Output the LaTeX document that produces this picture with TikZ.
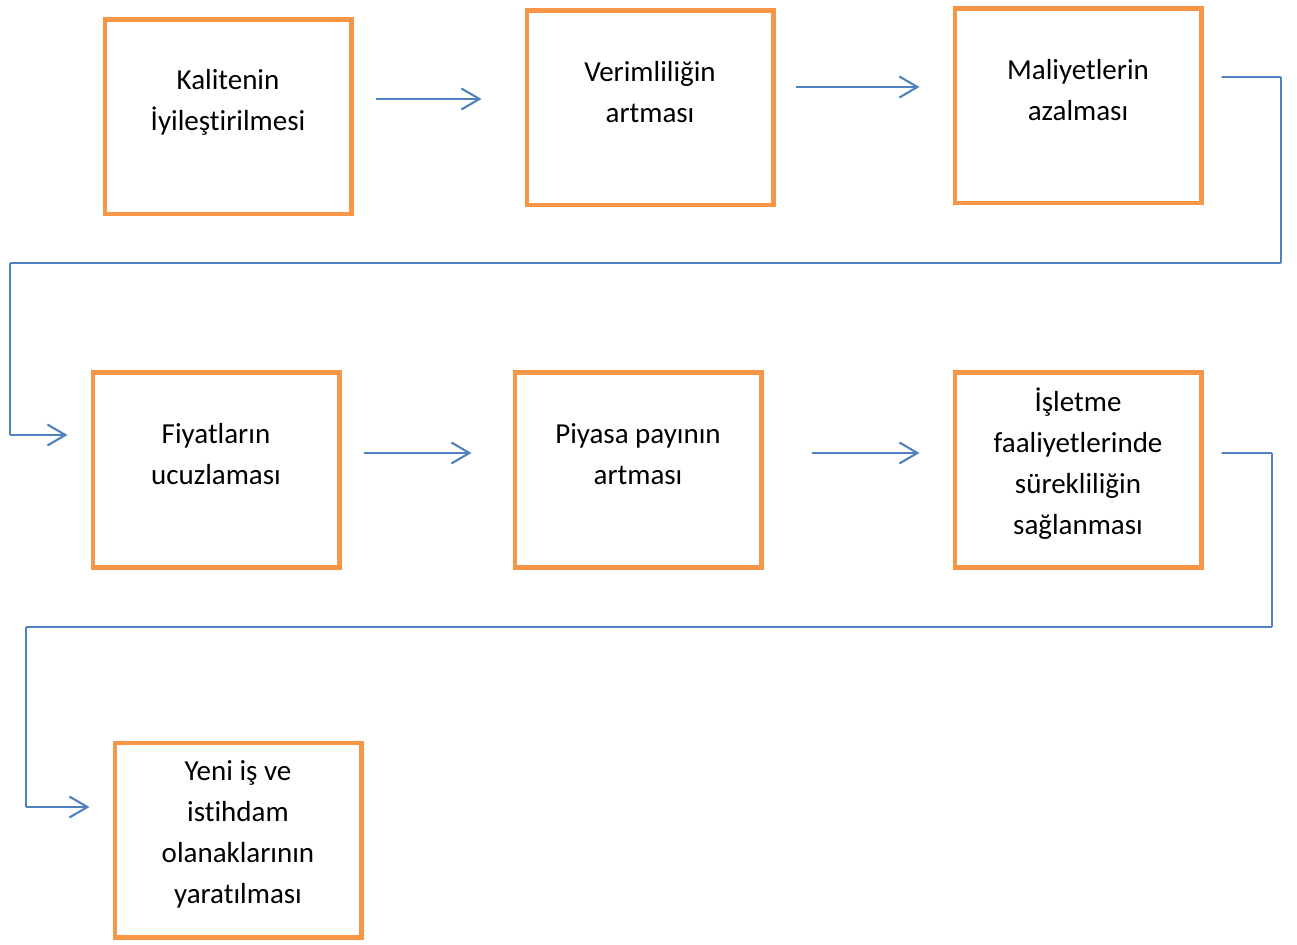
\documentclass[tikz,border=0pt]{standalone}
\usepackage{fontspec}
\setmainfont{Carlito}[RawFeature={-liga}]
\usepackage{tikz}
\usetikzlibrary{arrows.meta,calc,positioning}
\definecolor{boxorange}{HTML}{F79646}
\definecolor{lineblue}{HTML}{4F81BD}

\begin{document}
\begin{tikzpicture}
[x=0.02cm,y=-0.02cm,
box/.style={shape=rectangle,draw=boxorange,line width=2.3pt,
  minimum width=4.94cm,minimum height=3.9cm,inner sep=0pt},
txt/.style={align=center,inner sep=0pt,
  font=\fontsize{16.5}{23.3}\selectfont},
arr/.style={draw=lineblue,line width=1.2pt,
  -{Straight Barb[length=0.36cm,width=0.42cm,line width=1.2pt]}},
link/.style={arr,line width=1pt,rounded corners=0.5pt}]
\useasboundingbox (0,0) rectangle (1297,945);

\draw (228,117) node (s1) [box] {};
\draw (228,102) node (t1) [txt] {Kalitenin\\İyileştirilmesi};
\draw (650,108) node (s2) [box] {};
\draw (650,92) node (t2) [txt] {Verimliliğin\\artması};
\draw (1078,106) node (s3) [box] {};
\draw (1078,90) node (t3) [txt] {Maliyetlerin\\azalması};

\draw (216,470) node (s4) [box] {};
\draw (216,454) node (t4) [txt] {Fiyatların\\ucuzlaması};
\draw (638,470) node (s5) [box] {};
\draw (638,454) node (t5) [txt] {Piyasa payının\\artması};
\draw (1078,470) node (s6) [box] {};
\draw (1078,464) node (t6) [txt] {İşletme\\faaliyetlerinde\\sürekliliğin\\sağlanması};

\draw (238,840) node (s7) [box] {};
\draw (238,834) node (t7) [txt] {Yeni iş ve\\istihdam\\olanaklarının\\yaratılması};

% arrows
\draw [arr] ($(s1.east)+(22,-18)$) -- ($(s2.west)+(-43,-9)$);
\draw [arr] ($(s2.east)+(20,-21)$) -- ($(s3.west)+(-33,-19)$);
\draw [arr] ($(s4.east)+(22,-17)$) -- ($(s5.west)+(-41,-17)$);
\draw [arr] ($(s5.east)+(48,-17)$) -- ($(s6.west)+(-33,-17)$);
\draw [link] ($(s3.east)+(18,-29)$) -| (1281,263) -| (10,435)
    -- ($(s4.west)+(-23,-35)$);
\draw [link] ($(s6.east)+(18,-17)$) -| (1272,627) -| (26,807)
    -- ($(s7.west)+(-23,-33)$);
\end{tikzpicture}
\end{document}
